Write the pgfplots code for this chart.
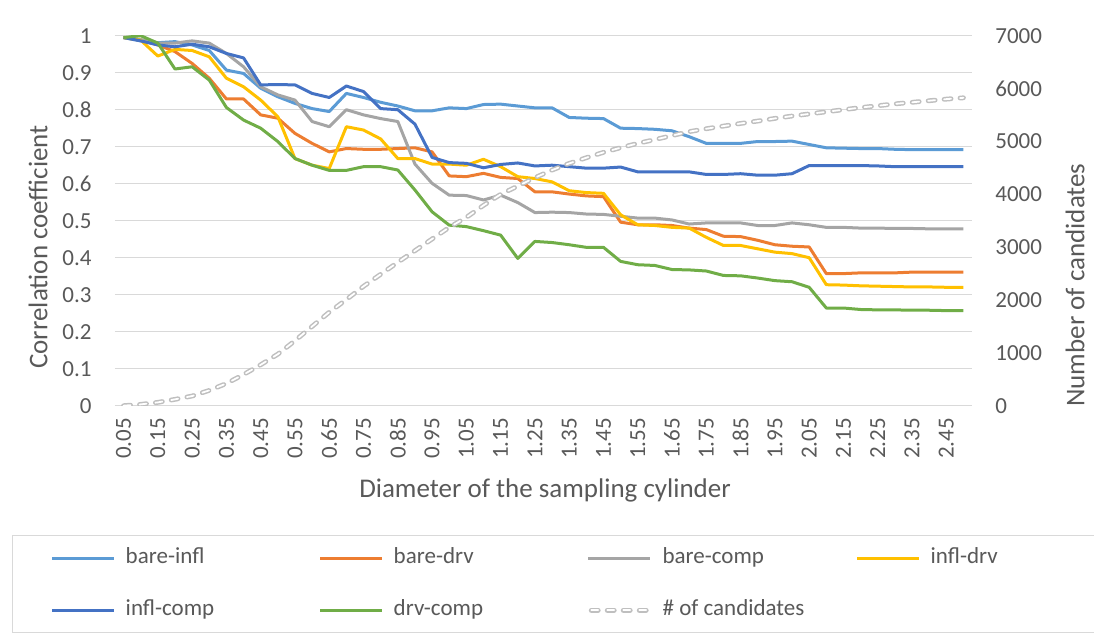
\documentclass[border=0pt]{standalone}
\usepackage{pgfplots}
\pgfplotsset{compat=1.18}
\usepackage{pgfplotstable}
\usepackage{fontspec}
\setmainfont{Carlito}
\definecolor{cBI}{HTML}{5B9BD5}
\definecolor{cBD}{HTML}{ED7D31}
\definecolor{cBC}{HTML}{A5A5A5}
\definecolor{cID}{HTML}{FFC000}
\definecolor{cIC}{HTML}{4472C4}
\definecolor{cDC}{HTML}{70AD47}
\definecolor{txt}{HTML}{595959}
\definecolor{gridc}{HTML}{D9D9D9}
\definecolor{cand}{HTML}{BFBFBF}

\pgfplotstableread{
x bi bd bc id ic dc n
0.05 0.995 0.995 0.995 0.995 0.995 0.995 0
0.10 0.986 0.988 0.990 0.988 0.986 1.000 25
0.15 0.981 0.975 0.980 0.945 0.975 0.980 63
0.20 0.984 0.957 0.980 0.963 0.970 0.910 120
0.25 0.975 0.925 0.986 0.960 0.977 0.916 183
0.30 0.960 0.885 0.980 0.943 0.970 0.880 290
0.35 0.907 0.829 0.952 0.885 0.952 0.806 420
0.40 0.898 0.829 0.916 0.862 0.940 0.772 590
0.45 0.858 0.786 0.862 0.826 0.867 0.750 774
0.50 0.835 0.777 0.840 0.781 0.868 0.714 975
0.55 0.817 0.736 0.826 0.668 0.867 0.668 1230
0.60 0.803 0.709 0.768 0.650 0.844 0.650 1500
0.65 0.795 0.686 0.754 0.641 0.833 0.636 1769
0.70 0.844 0.695 0.800 0.754 0.864 0.636 2008
0.75 0.833 0.693 0.786 0.745 0.849 0.646 2259
0.80 0.820 0.693 0.776 0.721 0.803 0.646 2486
0.85 0.810 0.695 0.768 0.668 0.800 0.637 2713
0.90 0.797 0.697 0.653 0.668 0.761 0.583 2933
0.95 0.797 0.686 0.601 0.653 0.671 0.524 3154
1.00 0.805 0.621 0.569 0.653 0.657 0.488 3374
1.05 0.803 0.619 0.568 0.650 0.655 0.484 3563
1.10 0.814 0.628 0.556 0.666 0.643 0.473 3790
1.15 0.815 0.617 0.569 0.646 0.652 0.461 3998
1.20 0.810 0.614 0.549 0.619 0.656 0.398 4156
1.25 0.805 0.578 0.522 0.614 0.648 0.444 4314
1.30 0.805 0.578 0.523 0.605 0.650 0.441 4458
1.35 0.779 0.572 0.522 0.581 0.646 0.435 4584
1.40 0.777 0.567 0.518 0.576 0.642 0.428 4692
1.45 0.776 0.565 0.517 0.574 0.642 0.428 4793
1.50 0.750 0.496 0.512 0.516 0.645 0.390 4881
1.55 0.749 0.489 0.507 0.489 0.632 0.381 4963
1.60 0.747 0.489 0.507 0.487 0.632 0.379 5035
1.65 0.743 0.487 0.502 0.482 0.632 0.368 5110
1.70 0.727 0.480 0.491 0.480 0.632 0.367 5185
1.75 0.709 0.476 0.494 0.455 0.625 0.364 5240
1.80 0.709 0.458 0.494 0.433 0.625 0.352 5290
1.85 0.709 0.457 0.494 0.433 0.627 0.351 5340
1.90 0.714 0.447 0.487 0.424 0.623 0.345 5385
1.95 0.714 0.435 0.487 0.415 0.623 0.338 5435
2.00 0.715 0.431 0.494 0.411 0.627 0.335 5480
2.05 0.706 0.429 0.489 0.400 0.649 0.320 5520
2.10 0.697 0.357 0.482 0.327 0.649 0.264 5560
2.15 0.696 0.357 0.482 0.326 0.649 0.264 5600
2.20 0.695 0.359 0.480 0.324 0.649 0.260 5640
2.25 0.695 0.359 0.480 0.323 0.648 0.259 5675
2.30 0.693 0.359 0.479 0.322 0.646 0.259 5710
2.35 0.692 0.361 0.479 0.321 0.646 0.258 5740
2.40 0.692 0.361 0.478 0.321 0.646 0.258 5770
2.45 0.692 0.361 0.478 0.320 0.646 0.257 5800
2.50 0.692 0.361 0.478 0.320 0.646 0.257 5825
}\data

\newcommand{\lbl}{\fontsize{11.5}{13}\selectfont}
\newcommand{\ttl}{\fontsize{13.5}{16}\selectfont}

\begin{document}
\begin{tikzpicture}
\begin{axis}[
  at={(0pt,0pt)}, anchor=south west,
  scale only axis, width=428.5pt, height=185pt,
  xmin=0.025, xmax=2.525, ymin=0, ymax=1,
  xtick={0.05,0.15,0.25,0.35,0.45,0.55,0.65,0.75,0.85,0.95,1.05,1.15,1.25,1.35,1.45,1.55,1.65,1.75,1.85,1.95,2.05,2.15,2.25,2.35,2.45},
  xticklabels={0.05,0.15,0.25,0.35,0.45,0.55,0.65,0.75,0.85,0.95,1.05,1.15,1.25,1.35,1.45,1.55,1.65,1.75,1.85,1.95,2.05,2.15,2.25,2.35,2.45},
  ytick={0,0.1,0.2,0.3,0.4,0.5,0.6,0.7,0.8,0.9,1},
  yticklabels={0,0.1,0.2,0.3,0.4,0.5,0.6,0.7,0.8,0.9,1},
  ymajorgrids, grid style={draw=gridc, line width=0.75pt},
  axis line style={draw=none},
  major tick length=0pt,
  tick label style={font=\lbl, text=txt},
  xticklabel style={rotate=90, anchor=east, inner xsep=6pt, inner ysep=0pt},
  yticklabel style={anchor=east, inner sep=0pt, xshift=-11.5pt},
  xlabel={Diameter of the sampling cylinder},
  ylabel={Correlation coefficient},
  every axis x label/.style={at={(axis description cs:0.5018,-0.2278)}, anchor=center, font=\ttl, text=txt},
  every axis y label/.style={at={(axis description cs:-0.0898,0.429)}, rotate=90, anchor=center, font=\ttl, text=txt},
  legend columns=4,
  legend cell align=left,
  legend image code/.code={\draw[#1] (0pt,0pt) -- (31pt,0pt);},
  legend style={
    at={(-0.12019,-0.34946)}, anchor=north west,
    draw=gridc, line width=0.75pt, fill=white,
    inner xsep=19pt, inner ysep=5.75pt,
    row sep=15pt,
    nodes={inner sep=0pt, text height=8pt, text depth=3pt, font=\lbl, text=txt},
    /tikz/every odd column/.append style={column sep=5pt},
    /tikz/every even column/.append style={column sep=0pt},
  },
]
\addplot[cBI, line width=1.5pt, line join=round] table[x=x,y=bi]{\data};
\addlegendentry{\makebox[96.5pt][l]{bare-infl}}
\addplot[cBD, line width=1.5pt, line join=round] table[x=x,y=bd]{\data};
\addlegendentry{\makebox[96.5pt][l]{bare-drv}}
\addplot[cBC, line width=1.5pt, line join=round] table[x=x,y=bc]{\data};
\addlegendentry{\makebox[96.5pt][l]{bare-comp}}
\addplot[cID, line width=1.5pt, line join=round] table[x=x,y=id]{\data};
\addlegendentry{\makebox[65pt][l]{infl-drv}}
\addplot[cIC, line width=1.5pt, line join=round] table[x=x,y=ic]{\data};
\addlegendentry{\makebox[96.5pt][l]{infl-comp}}
\addplot[cDC, line width=1.5pt, line join=round] table[x=x,y=dc]{\data};
\addlegendentry{\makebox[96.5pt][l]{drv-comp}}
\addlegendimage{legend image code/.code={
  \draw[cand, line width=2.4pt, dash pattern=on 3.5pt off 4.5pt, line cap=round] (1.5pt,0pt) -- (31pt,0pt);
  \draw[white, line width=0.9pt, dash pattern=on 3.5pt off 4.5pt, line cap=round] (1.5pt,0pt) -- (31pt,0pt);}}
\addlegendentry{\makebox[96.5pt][l]{\# of candidates}}
\end{axis}
\begin{axis}[
  at={(0pt,0pt)}, anchor=south west,
  scale only axis, width=428.5pt, height=185pt,
  xmin=0.025, xmax=2.525, ymin=0, ymax=7000,
  axis x line=none, axis y line*=right,
  y axis line style={draw=none},
  major tick length=0pt,
  ytick={0,1000,2000,3000,4000,5000,6000,7000},
  yticklabels={0,1000,2000,3000,4000,5000,6000,7000},
  yticklabel style={anchor=west, inner sep=0pt, xshift=11.5pt, font=\lbl, text=txt},
  ylabel={Number of candidates},
  every axis y label/.style={at={(axis description cs:1.1202,0.326)}, rotate=90, anchor=center, font=\ttl, text=txt},
]
\addplot[cand, line width=2.4pt, dash pattern=on 3.5pt off 4.5pt, line cap=round] table[x=x,y=n]{\data};
\addplot[white, line width=0.9pt, dash pattern=on 3.5pt off 4.5pt, line cap=round] table[x=x,y=n]{\data};
\end{axis}
\pgfresetboundingbox
\useasboundingbox (-57.5pt,-115.65pt) rectangle (489.5pt,202.85pt);
\end{tikzpicture}
\end{document}
